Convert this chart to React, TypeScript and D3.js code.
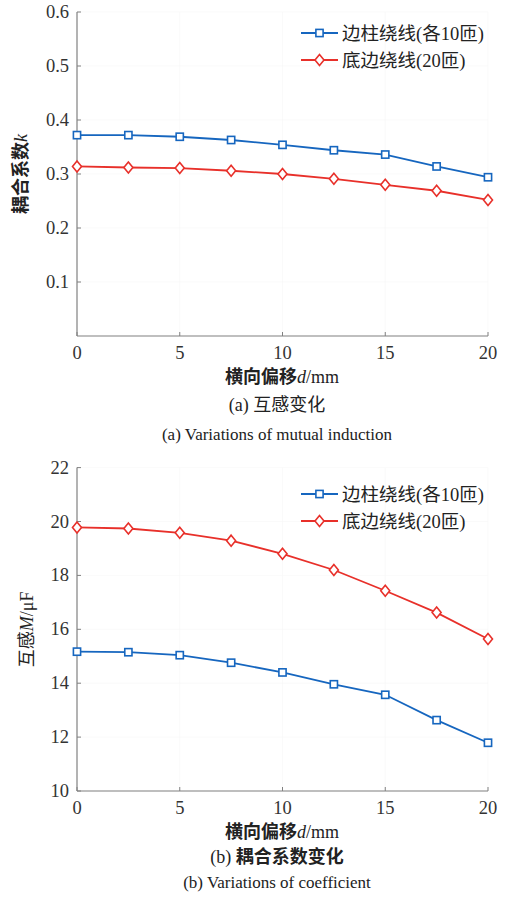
import React from "react";
import * as d3 from "d3";

// Lateral offset d (mm)
const offsets = [0, 2.5, 5, 7.5, 10, 12.5, 15, 17.5, 20];

// Coupling coefficient k
const kSide = [0.372, 0.372, 0.369, 0.363, 0.354, 0.344, 0.336, 0.314, 0.294];
const kBottom = [0.314, 0.312, 0.311, 0.306, 0.300, 0.291, 0.280, 0.269, 0.252];

// Mutual inductance M
const mSide = [15.17, 15.15, 15.04, 14.76, 14.40, 13.96, 13.57, 12.63, 11.79];
const mBottom = [19.78, 19.74, 19.58, 19.29, 18.80, 18.20, 17.43, 16.62, 15.64];

const xTicks = [0, 5, 10, 15, 20];
const kTicks = [0.1, 0.2, 0.3, 0.4, 0.5, 0.6];
const mTicks = [10, 12, 14, 16, 18, 20, 22];

const seriesNames = ["边柱绕线(各10匝)", "底边绕线(20匝)"];

const BLUE = "#1666bf";
const RED = "#e8302a";
const AXIS = "#808080";
const FONT = "'Times New Roman', 'Liberation Serif', 'DejaVu Serif', 'Noto Sans CJK SC', serif";

type PanelProps = {
  top: number;
  bottom: number;
  yDomain: [number, number];
  yTicks: number[];
  yFormat: (v: number) => string;
  blue: number[];
  red: number[];
  yLabel: React.ReactNode;
  yLabelX: number;
  captionCn: React.ReactNode;
  captionEn: string;
  legendY: number;
  textY: [number, number, number];
};

function Panel(p: PanelProps) {
  const x = d3.scaleLinear().domain([0, 20]).range([77, 488]);
  const y = d3.scaleLinear().domain(p.yDomain).range([p.bottom, p.top]);
  const line = d3
    .line<number>()
    .x((_, i) => x(offsets[i]))
    .y((v) => y(v));
  const sq = 3.6;
  const dm = 5;
  const square = (cx: number, cy: number, k: string) => (
    <rect key={k} x={cx - sq} y={cy - sq} width={sq * 2} height={sq * 2} fill="white" stroke={BLUE} strokeWidth={1.6} />
  );
  const diamond = (cx: number, cy: number, k: string) => (
    <path
      key={k}
      d={`M${cx},${cy - dm - 0.5}L${cx + dm - 0.5},${cy}L${cx},${cy + dm + 0.5}L${cx - dm + 0.5},${cy}Z`}
      fill="white"
      stroke={RED}
      strokeWidth={1.6}
    />
  );
  const midY = (p.top + p.bottom) / 2;
  const lx0 = 301;
  const lx1 = 338;
  return (
    <g>
      {/* faint grid */}
      {xTicks.slice(1).map((t) => (
        <line key={"gx" + t} x1={x(t)} x2={x(t)} y1={p.top} y2={p.bottom} stroke="#f6f6f6" strokeWidth={0.6} />
      ))}
      {p.yTicks.map((t) => (
        <line key={"gy" + t} x1={77} x2={488} y1={y(t)} y2={y(t)} stroke="#f6f6f6" strokeWidth={0.6} />
      ))}
      {/* axes */}
      <line x1={77} x2={77} y1={y(p.yDomain[1])} y2={p.bottom} stroke={AXIS} strokeWidth={1.2} />
      <line x1={77} x2={488} y1={p.bottom} y2={p.bottom} stroke={AXIS} strokeWidth={1.2} />
      {xTicks.map((t) => (
        <g key={"xt" + t}>
          <line x1={x(t)} x2={x(t)} y1={p.bottom} y2={p.bottom - 4} stroke={AXIS} strokeWidth={1} />
          <text x={x(t)} y={p.bottom + 23} textAnchor="middle" fontSize={18.5} fill="#333" fontFamily={FONT}>
            {t}
          </text>
        </g>
      ))}
      {p.yTicks.map((t) => (
        <g key={"yt" + t}>
          <line x1={77} x2={81} y1={y(t)} y2={y(t)} stroke={AXIS} strokeWidth={1} />
          <text x={69} y={y(t) + 6} textAnchor="end" fontSize={18.5} fill="#333" fontFamily={FONT}>
            {p.yFormat(t)}
          </text>
        </g>
      ))}
      {/* series */}
      <path d={line(p.red) || ""} fill="none" stroke={RED} strokeWidth={1.8} />
      <path d={line(p.blue) || ""} fill="none" stroke={BLUE} strokeWidth={1.8} />
      {p.red.map((v, i) => diamond(x(offsets[i]), y(v), "d" + i))}
      {p.blue.map((v, i) => square(x(offsets[i]), y(v), "s" + i))}
      {/* legend */}
      <line x1={lx0} x2={lx1} y1={p.legendY} y2={p.legendY} stroke={BLUE} strokeWidth={1.8} />
      {square((lx0 + lx1) / 2, p.legendY, "ls")}
      <text x={342} y={p.legendY + 6.5} fontSize={18.5} fill="#222" fontFamily={FONT}>
        {seriesNames[0]}
      </text>
      <line x1={lx0} x2={lx1} y1={p.legendY + 27} y2={p.legendY + 27} stroke={RED} strokeWidth={1.8} />
      {diamond((lx0 + lx1) / 2, p.legendY + 27, "ld")}
      <text x={342} y={p.legendY + 27 + 6.5} fontSize={18.5} fill="#222" fontFamily={FONT}>
        {seriesNames[1]}
      </text>
      {/* y label */}
      <text
        transform={`translate(${p.yLabelX},${midY}) rotate(-90)`}
        textAnchor="middle"
        fontSize={18}
        fill="#222"
        fontFamily={FONT}
      >
        {p.yLabel}
      </text>
      {/* x label */}
      <text x={282} y={p.textY[0]} textAnchor="middle" fontSize={18} fill="#222" fontFamily={FONT}>
        <tspan fontWeight="bold">横向偏移</tspan>
        <tspan fontStyle="italic">d</tspan>/mm
      </text>
      {/* captions */}
      <text x={277} y={p.textY[1]} textAnchor="middle" fontSize={18} fill="#222" fontFamily={FONT}>
        {p.captionCn}
      </text>
      <text x={277} y={p.textY[2]} textAnchor="middle" fontSize={17} fill="#222" fontFamily={FONT}>
        {p.captionEn}
      </text>
    </g>
  );
}

export default function App() {
  return (
    <svg width={512} height={897} style={{ position: "absolute", left: 0, top: 0, background: "white" }}>
      <Panel
        top={12}
        bottom={336}
        yDomain={[0, 0.6]}
        yTicks={kTicks}
        yFormat={(v) => d3.format(".1f")(v)}
        blue={kSide}
        red={kBottom}
        yLabel={
          <>
            <tspan fontWeight="bold">耦合系数</tspan>
            <tspan fontStyle="italic">k</tspan>
          </>
        }
        yLabelX={27}
        captionCn={<>(a) 互感变化</>}
        captionEn="(a) Variations of mutual induction"
        legendY={33}
        textY={[383, 411, 440]}
      />
      <Panel
        top={467.6}
        bottom={791}
        yDomain={[10, 22]}
        yTicks={mTicks}
        yFormat={(v) => String(v)}
        blue={mSide}
        red={mBottom}
        yLabel={
          <>
            互感<tspan fontStyle="italic">M</tspan>/μF
          </>
        }
        yLabelX={33}
        captionCn={
          <>
            (b) <tspan fontWeight="bold">耦合系数变化</tspan>
          </>
        }
        captionEn="(b) Variations of coefficient"
        legendY={494}
        textY={[838, 863, 888]}
      />
    </svg>
  );
}
